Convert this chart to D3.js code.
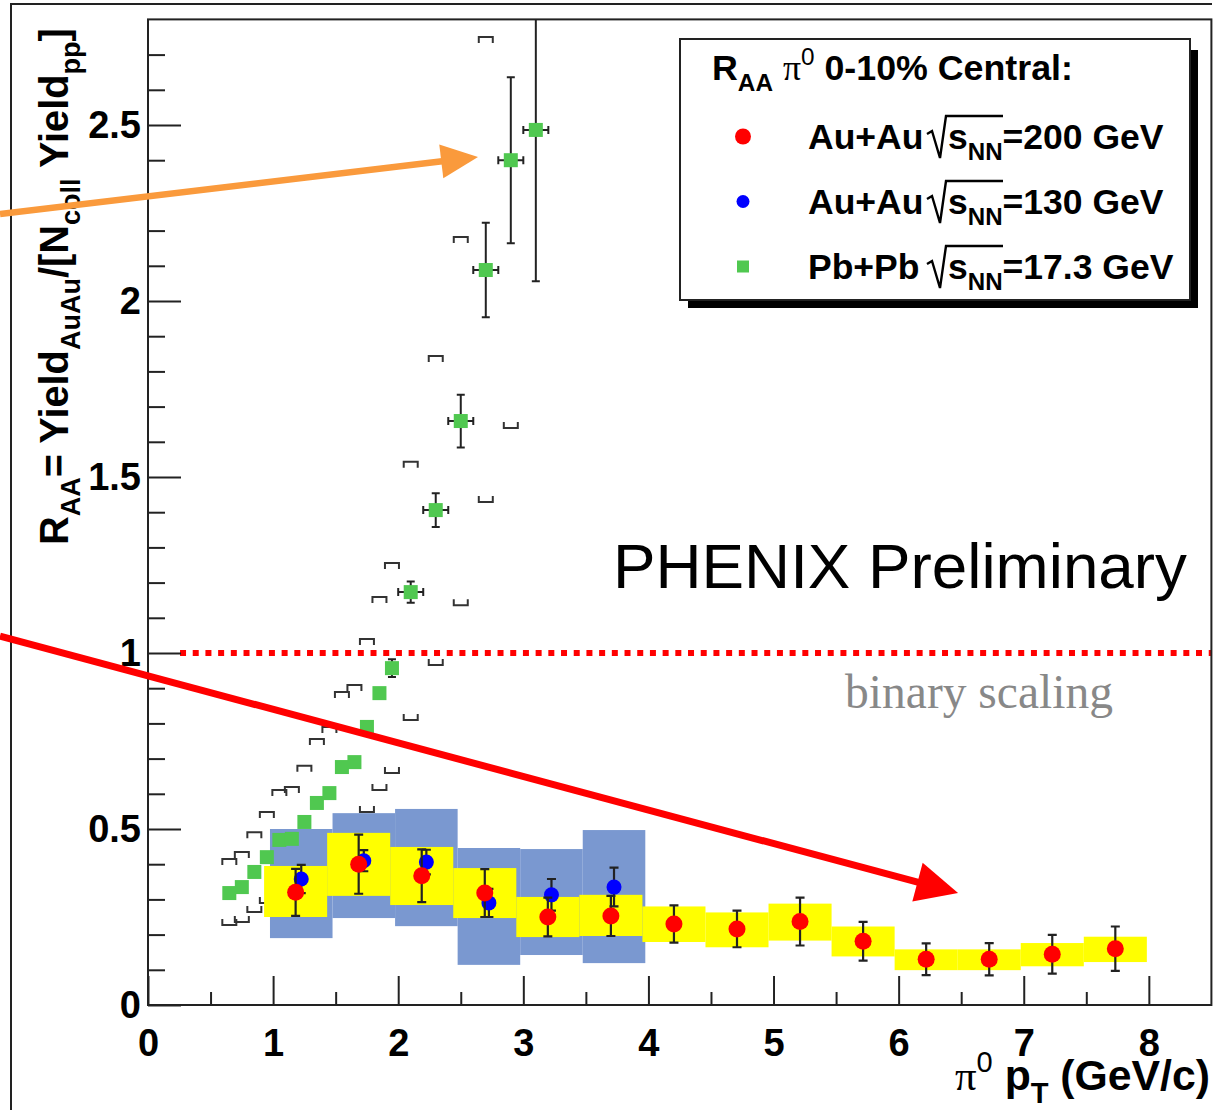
<!DOCTYPE html>
<html><head><meta charset="utf-8">
<script src="https://cdn.jsdelivr.net/npm/d3@7"></script>
<style>body{margin:0;background:#fff}svg{display:block}text{white-space:pre}</style>
</head><body>
<svg id="c" width="1228" height="1110"></svg>
<script>
// ---------- DATA ----------
// Pb+Pb sqrt(sNN)=17.3 GeV (green squares)
const pbX    = [0.65,0.75,0.85,0.95,1.05,1.15,1.25,1.35,1.45,1.55,1.65,1.75,1.85,1.95,2.1,2.3,2.5,2.7,2.9,3.1];
const pbY    = [0.318,0.335,0.378,0.420,0.469,0.472,0.520,0.574,0.602,0.676,0.690,0.790,0.886,0.957,1.173,1.406,1.659,2.088,2.400,2.486];
const pbYErr = [0,0,0,0,0,0,0,0,0,0,0,0,0.01,0.025,0.03,0.048,0.075,0.134,0.236,0.43];
const pbXErr = [0,0,0,0,0,0,0,0,0,0,0,0,0,0,0.1,0.1,0.1,0.1,0.1,0.1];
const pbSysHi = [0.415,0.435,0.491,0.548,0.611,0.619,0.68,0.756,0.79,0.889,0.909,1.04,1.159,1.256,1.543,1.844,2.182,2.75,null,null];
const pbSysLo = [0.227,0.236,0.264,0.29,0.33,0.33,0.364,0.406,0.412,0.47,0.48,0.548,0.611,0.659,0.81,0.966,1.136,1.429,1.639,null];

// Au+Au sqrt(sNN)=200 GeV (red circles, yellow boxes)
const au200X    = [1.18,1.684,2.188,2.692,3.196,3.70,4.204,4.708,5.212,5.716,6.22,6.724,7.228,7.732];
const au200Y    = [0.32,0.40,0.367,0.318,0.25,0.253,0.23,0.216,0.237,0.181,0.13,0.13,0.144,0.16];
const au200Err  = [0.067,0.084,0.075,0.068,0.055,0.057,0.053,0.052,0.068,0.055,0.045,0.046,0.055,0.063];
const au200SysLo= [0.25,0.31,0.284,0.247,0.193,0.196,0.179,0.164,0.183,0.138,0.099,0.099,0.11,0.122];
const au200SysHi= [0.395,0.489,0.449,0.389,0.307,0.313,0.28,0.263,0.288,0.223,0.158,0.158,0.176,0.194];

// Au+Au sqrt(sNN)=130 GeV (blue circles, blue boxes)
const au130X    = [1.225,1.725,2.225,2.725,3.225,3.725];
const au130Y    = [0.358,0.41,0.406,0.29,0.313,0.335];
const au130Err  = [0.04,0.03,0.035,0.04,0.045,0.055];
const au130SysLo= [0.19,0.247,0.224,0.114,0.142,0.119];
const au130SysHi= [0.50,0.545,0.557,0.446,0.443,0.497];

// axes
const xMajorTicks = [0,1,2,3,4,5,6,7,8];
const xMinorTicks = [0.5,1.5,2.5,3.5,4.5,5.5,6.5,7.5];
const yMajorTicks = [0,0.5,1,1.5,2,2.5];
const yMinorTicks = [0.1,0.2,0.3,0.4,0.6,0.7,0.8,0.9,1.1,1.2,1.3,1.4,1.6,1.7,1.8,1.9,2.1,2.2,2.3,2.4,2.6,2.7];
const yTickLabels = ["0","0.5","1","1.5","2","2.5"];
const xTickLabels = ["0","1","2","3","4","5","6","7","8"];

// reference line and annotations (data units)
const binaryLine = [0.256, 8.5, 1.0];
const arrowOrange = [[-1.183, 2.247],[2.638, 2.409]];
const arrowRed    = [[-1.183, 1.048],[6.475, 0.318]];
const phenixPos = [3.717, 1.185];
const binaryPos = [5.572, 0.844];

// ---------- SETUP ----------
const W=1228,H=1110;
const SANS="'Liberation Sans', Arial, Helvetica, sans-serif";
const SERIF="'Liberation Serif', 'Times New Roman', serif";
const svg=d3.select("#c");
svg.append("rect").attr("width",W).attr("height",H).attr("fill","#fff");

const x=d3.scaleLinear().domain([0,8.5]).range([148,1211.4]);
const y=d3.scaleLinear().domain([0,2.8]).range([1005,19.4]);

// outer frame
svg.append("path").attr("d",`M11,${H} V4 H1212`).attr("fill","none").attr("stroke","#222").attr("stroke-width",2);

svg.append("defs").append("clipPath").attr("id","clip").append("rect")
  .attr("x",x(0)).attr("y",y(2.8)).attr("width",x(8.5)-x(0)).attr("height",y(0)-y(2.8));

const plot=svg.append("g").attr("clip-path","url(#clip)");

const pb = pbX.map((v,i)=>({x:v,y:pbY[i],ey:pbYErr[i],ex:pbXErr[i],hi:pbSysHi[i],lo:pbSysLo[i]}));
const a200 = au200X.map((v,i)=>({x:v,y:au200Y[i],e:au200Err[i],lo:au200SysLo[i],hi:au200SysHi[i]}));
const a130 = au130X.map((v,i)=>({x:v,y:au130Y[i],e:au130Err[i],lo:au130SysLo[i],hi:au130SysHi[i]}));

// brackets (Pb+Pb systematic)
const BR="#333";
plot.append("g").selectAll("path").data(pb.filter(d=>d.hi!=null)).join("path")
  .attr("d",d=>{const cx=x(d.x),cy=y(d.hi);return `M${cx-7},${cy+6}V${cy}H${cx+7}V${cy+6}`;})
  .attr("fill","none").attr("stroke",BR).attr("stroke-width",2);
plot.append("g").selectAll("path").data(pb.filter(d=>d.lo!=null)).join("path")
  .attr("d",d=>{const cx=x(d.x),cy=y(d.lo);return `M${cx-7},${cy-6}V${cy}H${cx+7}V${cy-6}`;})
  .attr("fill","none").attr("stroke",BR).attr("stroke-width",2);

// boxes
plot.append("g").selectAll("rect").data(a130).join("rect")
  .attr("x",d=>x(d.x-0.25)).attr("width",d=>x(d.x+0.25)-x(d.x-0.25))
  .attr("y",d=>y(d.hi)).attr("height",d=>y(d.lo)-y(d.hi)).attr("fill","#7a98d0");
plot.append("g").selectAll("rect").data(a200).join("rect")
  .attr("x",d=>x(d.x-0.252)).attr("width",d=>x(d.x+0.252)-x(d.x-0.252))
  .attr("y",d=>y(d.hi)).attr("height",d=>y(d.lo)-y(d.hi)).attr("fill","#ffff00");

// green error bars
const EB="#222";
const gpe=plot.append("g").attr("stroke",EB).attr("stroke-width",2).attr("fill","none");
pb.filter(d=>d.ey>0).forEach(d=>{
  const cx=x(d.x),y1=y(d.y-d.ey),y2=y(d.y+d.ey);
  gpe.append("path").attr("d",`M${cx},${y1}V${y2}M${cx-4},${y1}H${cx+4}M${cx-4},${y2}H${cx+4}`);
});
pb.filter(d=>d.ex>0).forEach(d=>{
  const cy=y(d.y),x1=x(d.x-d.ex),x2=x(d.x+d.ex);
  gpe.append("path").attr("d",`M${x1},${cy}H${x2}M${x1},${cy-4}V${cy+4}M${x2},${cy-4}V${cy+4}`);
});
const GS=14;
plot.append("g").selectAll("rect").data(pb).join("rect")
  .attr("x",d=>x(d.x)-GS/2).attr("y",d=>y(d.y)-GS/2).attr("width",GS).attr("height",GS)
  .attr("fill","#50c850");

// blue points
function errBars(g,data){
  g.selectAll("path").data(data).join("path")
   .attr("d",d=>{const cx=x(d.x),y1=y(d.y-d.e),y2=y(d.y+d.e);return `M${cx},${y1}V${y2}M${cx-4.5},${y1}H${cx+4.5}M${cx-4.5},${y2}H${cx+4.5}`;})
   .attr("stroke",EB).attr("stroke-width",2.2).attr("fill","none");
}
errBars(plot.append("g"),a130);
plot.append("g").selectAll("circle").data(a130).join("circle")
  .attr("cx",d=>x(d.x)).attr("cy",d=>y(d.y)).attr("r",7.5).attr("fill","#0000ff");
errBars(plot.append("g"),a200);
plot.append("g").selectAll("circle").data(a200).join("circle")
  .attr("cx",d=>x(d.x)).attr("cy",d=>y(d.y)).attr("r",8.5).attr("fill","#ff0000");

// binary scaling dotted line
plot.append("line").attr("x1",x(binaryLine[0])).attr("x2",x(binaryLine[1]))
  .attr("y1",y(binaryLine[2])).attr("y2",y(binaryLine[2]))
  .attr("stroke","#ff0000").attr("stroke-width",6).attr("stroke-dasharray","6,6.7");

// frame
svg.append("rect").attr("x",x(0)).attr("y",y(2.8)).attr("width",x(8.5)-x(0)).attr("height",y(0)-y(2.8))
  .attr("fill","none").attr("stroke","#222").attr("stroke-width",2);

// axes
function styleAxis(g){
  g.select(".domain").remove();
  g.selectAll("line").attr("stroke","#222").attr("stroke-width",2);
  g.selectAll("text").attr("font-family",SANS).attr("font-weight","bold").attr("font-size",38).attr("fill","#000");
}
svg.append("g").attr("transform",`translate(${x(0)},0)`)
  .call(d3.axisLeft(y).tickValues(yMajorTicks).tickSize(-33).tickPadding(7).tickFormat((d,i)=>yTickLabels[i])).call(styleAxis);
svg.append("g").attr("transform",`translate(${x(0)},0)`)
  .call(d3.axisLeft(y).tickValues(yMinorTicks).tickSize(-17).tickFormat("")).call(styleAxis);
svg.append("g").attr("transform",`translate(0,${y(0)})`)
  .call(d3.axisBottom(x).tickValues(xMajorTicks).tickSize(-29).tickPadding(24).tickFormat((d,i)=>xTickLabels[i])).call(styleAxis);
svg.append("g").attr("transform",`translate(0,${y(0)})`)
  .call(d3.axisBottom(x).tickValues(xMinorTicks).tickSize(-13).tickFormat("")).call(styleAxis);

// rich text helpers
function rich(parent,x0,y0,parts,size,anchor,fam,weight,fill){
  const t=parent.append("text").attr("x",x0).attr("y",y0).attr("text-anchor",anchor)
    .attr("font-family",fam).attr("font-weight",weight).attr("fill",fill);
  let cur=0;
  parts.forEach(p=>{
    const s=(p.sub||p.sup)?size*0.68:size;
    const tgt=p.sub?size*0.3:(p.sup?-size*0.42:0);
    const ts=t.append("tspan").attr("font-size",s).attr("dy",tgt-cur).text(p.t);
    if(p.fam) ts.attr("font-family",p.fam);
    if(p.w) ts.attr("font-weight",p.w);
    cur=tgt;
  });
  return t;
}
function fitRich(parent,x0,y0,parts,size,anchor,fam,weight,fill,targetW){
  const t=rich(parent,x0,y0,parts,size,anchor,fam,weight,fill);
  const w=t.node().getComputedTextLength(); t.remove();
  return rich(parent,x0,y0,parts,size*targetW/w,anchor,fam,weight,fill);
}

// y title
const gyt=svg.append("g").attr("transform","translate(68,545) rotate(-90)");
fitRich(gyt,0,0,[{t:"R"},{t:"AA",sub:1},{t:"= Yield"},{t:"AuAu",sub:1},{t:"/[N"},{t:"coll",sub:1},{t:" Yield"},{t:"pp",sub:1},{t:"]"}],
  38,"start",SANS,"bold","#000",517);

// x title
fitRich(svg,1210,1090,[{t:"π",fam:SERIF,w:"normal"},{t:"0",sup:1,w:"normal"},{t:" p"},{t:"T",sub:1},{t:" (GeV/c)"}],
  40,"end",SANS,"bold","#000",255);

// in-plot texts
fitRich(svg,x(phenixPos[0]),y(phenixPos[1]),[{t:"PHENIX Preliminary"}],62,"start",SANS,"normal","#000",574);
fitRich(svg,x(binaryPos[0]),y(binaryPos[1]),[{t:"binary scaling"}],44,"start",SERIF,"normal","#888888",268);

// legend
const lg=svg.append("g");
lg.append("rect").attr("x",688).attr("y",50).attr("width",510).attr("height",258).attr("fill","#000");
lg.append("rect").attr("x",680).attr("y",39).attr("width",510).attr("height",261).attr("fill","#fff").attr("stroke","#222").attr("stroke-width",2);
fitRich(lg,712,80,[{t:"R"},{t:"AA",sub:1},{t:" "},{t:"π",fam:SERIF,w:"normal"},{t:"0",sup:1,w:"normal"},{t:" 0-10% Central:"}],32,"start",SANS,"bold","#000",361);
const legItems=[
  {sys:"Au+Au",e:"=200 GeV",b:149,m:"circle",c:"#ff0000",r:8},
  {sys:"Au+Au",e:"=130 GeV",b:214,m:"circle",c:"#0000ff",r:6.5},
  {sys:"Pb+Pb",e:"=17.3 GeV",b:279,m:"square",c:"#50c850",r:6}
];
const LFS=35.5;
legItems.forEach(it=>{
  const my=it.b-12.5;
  if(it.m==="circle") lg.append("circle").attr("cx",743).attr("cy",my).attr("r",it.r).attr("fill",it.c);
  else lg.append("rect").attr("x",743-it.r).attr("y",my-it.r).attr("width",2*it.r).attr("height",2*it.r).attr("fill",it.c);
  rich(lg,808,it.b,[{t:it.sys}],LFS,"start",SANS,"bold","#000");
  rich(lg,948,it.b,[{t:"s"},{t:"NN",sub:1},{t:it.e}],LFS,"start",SANS,"bold","#000");
  const b=it.b;
  lg.append("path").attr("d",`M927,${b-15}L932,${b-18}L940,${b+9}L946,${b-33}H1003`)
    .attr("fill","none").attr("stroke","#000").attr("stroke-width",2.4).attr("stroke-linejoin","miter");
});

// arrows
function arrow(p1,p2,color,lw,hl,hw){
  const x1=x(p1[0]),y1=y(p1[1]),x2=x(p2[0]),y2=y(p2[1]);
  const dx=x2-x1,dy=y2-y1,L=Math.hypot(dx,dy),ux=dx/L,uy=dy/L;
  const bx=x2-ux*hl,by=y2-uy*hl;
  svg.append("line").attr("x1",x1).attr("y1",y1).attr("x2",bx+ux*3).attr("y2",by+uy*3)
    .attr("stroke",color).attr("stroke-width",lw);
  svg.append("path").attr("d",`M${x2},${y2}L${bx-uy*hw},${by+ux*hw}L${bx+uy*hw},${by-ux*hw}Z`).attr("fill",color);
}
arrow(arrowOrange[0],arrowOrange[1],"#fa9a3c",6.5,37,17);
arrow(arrowRed[0],arrowRed[1],"#ff0000",7,42,20);
</script>
</body></html>
